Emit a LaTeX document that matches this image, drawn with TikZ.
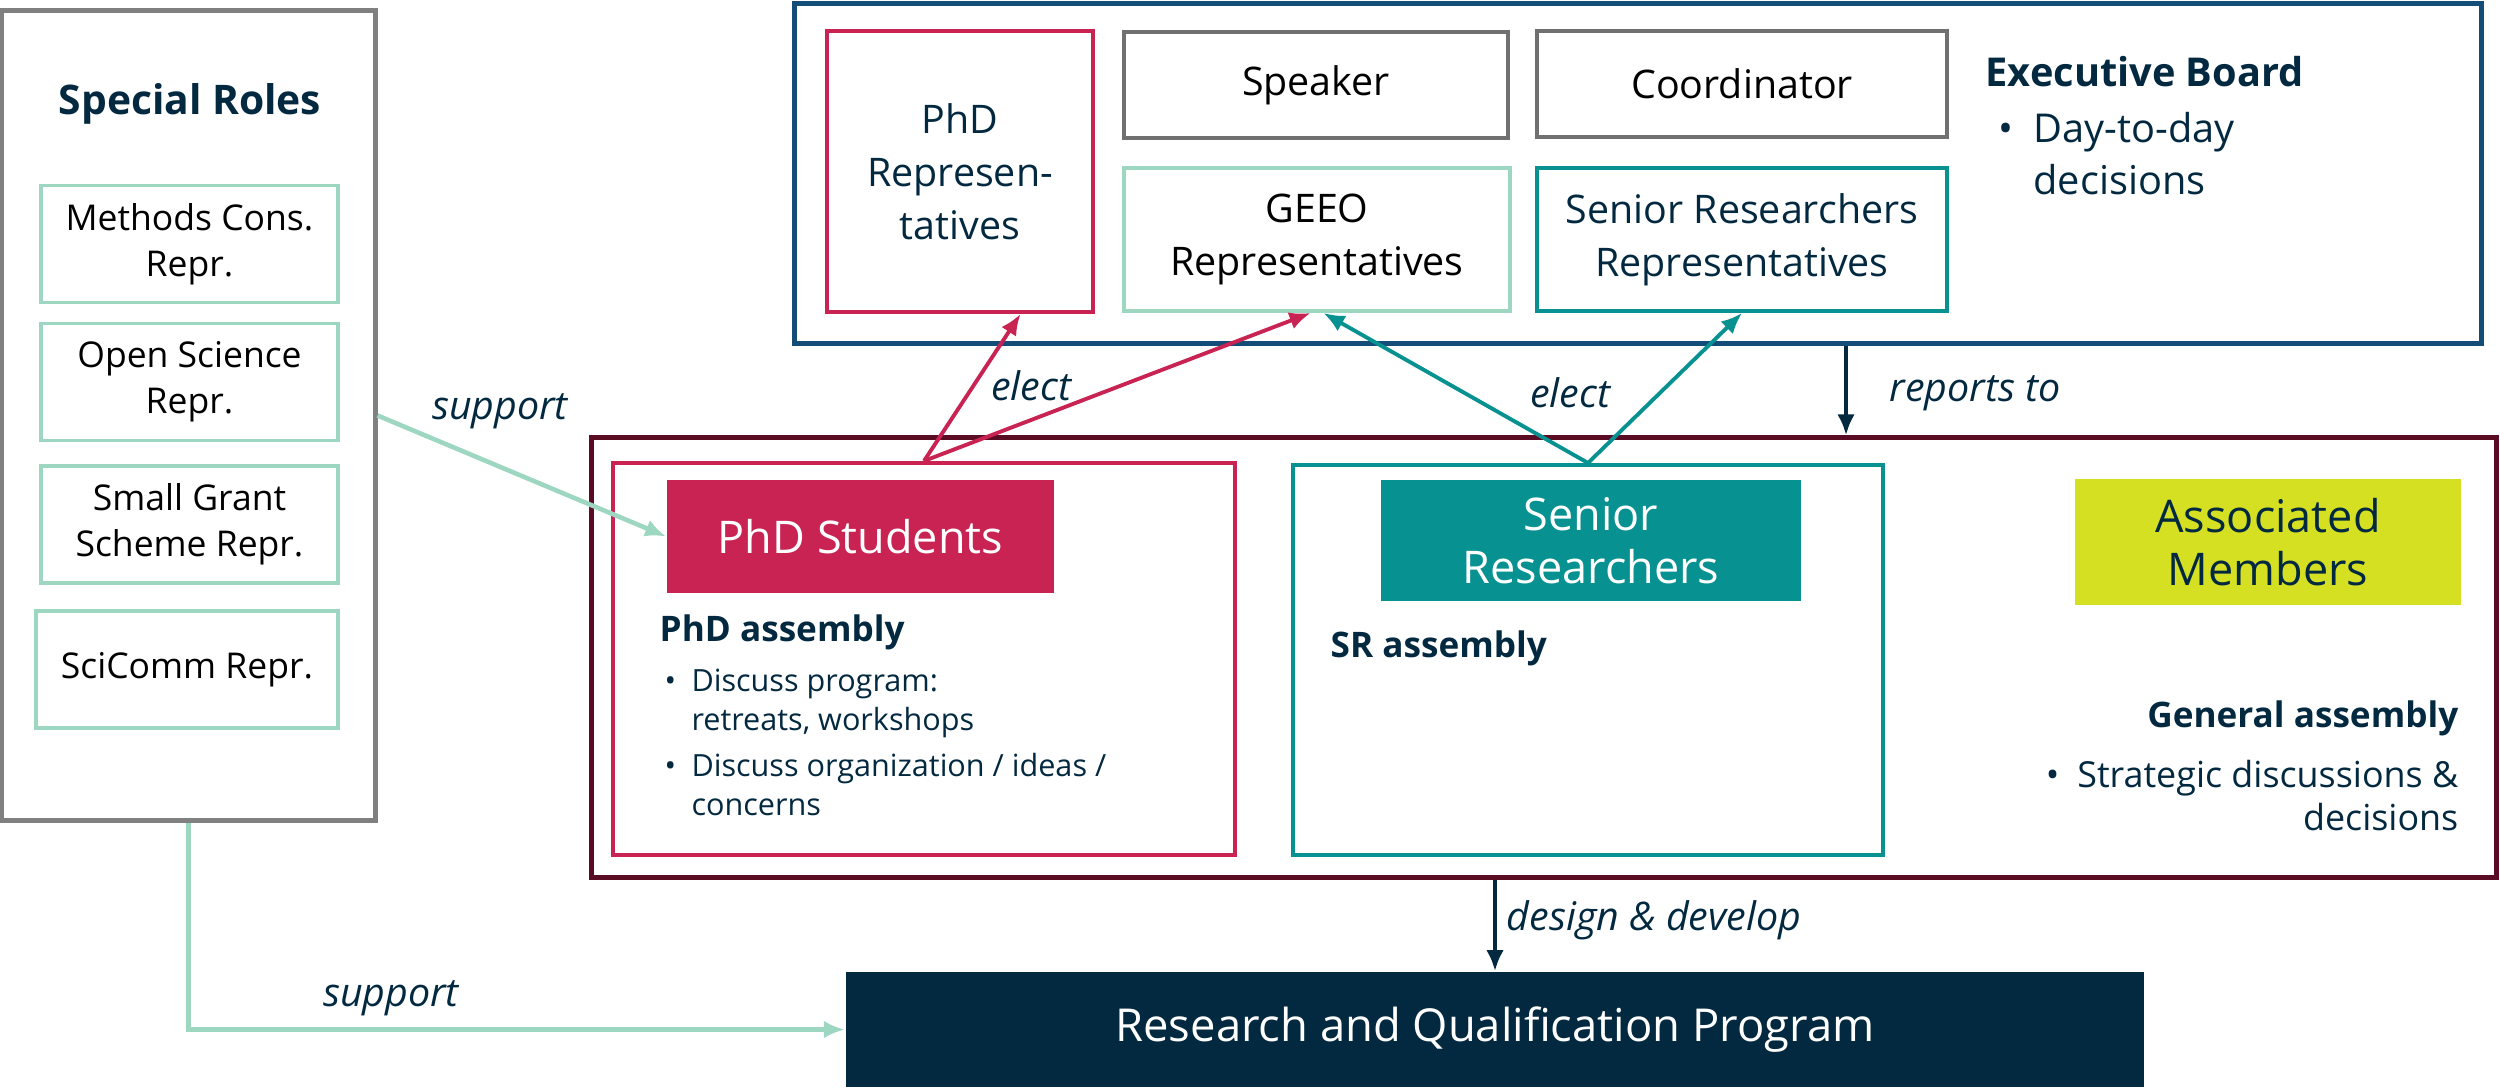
\documentclass[tikz,border=0pt]{standalone}
\usepackage{fontspec}
\setmainfont{Open Sans}
\usetikzlibrary{arrows.meta,shapes}
\definecolor{navy}{RGB}{3,41,64}
\definecolor{boardblue}{RGB}{21,77,121}
\definecolor{gamaroon}{RGB}{91,12,37}
\definecolor{phdred}{RGB}{200,35,82}
\definecolor{srteal}{RGB}{8,145,145}
\definecolor{mint}{RGB}{157,214,193}
\definecolor{roleg}{RGB}{128,128,128}
\definecolor{boxg}{RGB}{112,112,112}
\definecolor{amlime}{RGB}{214,224,34}
\tikzstyle{line} = [draw, -{Latex[length=6pt,width=5pt]}, line width=1.1pt]
\tikzstyle{frame} = [rectangle, draw, inner sep=0pt, line width=1.4pt]
\tikzstyle{role} = [rectangle, draw=mint, line width=1pt, minimum width=2.97cm, minimum height=1.17cm, align=center, font=\fontsize{10.1}{13}\selectfont]
\tikzstyle{seat} = [rectangle, draw, line width=1.1pt, minimum height=1.06cm, align=center, font=\fontsize{11.2}{15}\selectfont]
\tikzstyle{group} = [rectangle, inner sep=0pt, align=center, font=\fontsize{12.8}{15}\selectfont]
\tikzstyle{heading} = [text=navy, inner sep=0pt, font=\bfseries\fontsize{10}{12}\selectfont]
\tikzstyle{lbl} = [text=navy, font=\itshape\fontsize{11.2}{13}\selectfont]

\begin{document}
\begin{tikzpicture}[x=0.01cm, y=-0.01cm]
\useasboundingbox (0,0) rectangle (2500,1090);

% special roles
\node [frame, draw=roleg, minimum width=3.73cm, minimum height=8.09cm] (roles) at (188.5,415.5) {};
\node [heading, font=\bfseries\fontsize{11.6}{14}\selectfont] (rolestitle) at (190,104) {Special Roles};
\node [role] (methods) at (189.5,244) {Methods Cons.\\Repr.};
\node [role] (opensci) at (189.5,382) {Open Science\\Repr.};
\node [role] (grant) at (189.5,524.5) {Small Grant\\Scheme Repr.};
\node [role, minimum width=3.02cm] (scicomm) at (187,669.5) {SciComm Repr.};

% executive board
\node [frame, draw=boardblue, minimum width=16.86cm, minimum height=3.39cm] (board) at (1638,173.5) {};
\node [seat, draw=phdred, text=navy, minimum width=2.66cm, minimum height=2.81cm] (phdrep) at (960,171.5) {PhD\\Represen-\\tatives};
\node [seat, draw=boxg, minimum width=3.84cm] (speaker) at (1316,85) {Speaker};
\node [seat, draw=boxg, minimum width=4.10cm] (coord) at (1742,84) {Coordinator};
\node [seat, draw=mint, minimum width=3.86cm, minimum height=1.43cm] (geeo) at (1317,239.5) {GEEO\\Representatives};
\node [seat, draw=srteal, text=navy, minimum width=4.10cm, minimum height=1.43cm] (srrep) at (1742,239.5) {Senior Researchers\\Representatives};
\node [heading, anchor=west, font=\bfseries\fontsize{11.3}{14}\selectfont] (boardtitle) at (1985,72) {Executive Board};
\node [anchor=north west, inner sep=0pt, align=left, text=navy, font=\fontsize{11.3}{14.8}\selectfont] (boarddesc) at (1998,112) {•\enspace Day-to-day\\\phantom{•\enspace}decisions};

% general assembly
\node [frame, draw=gamaroon, minimum width=19.04cm, minimum height=4.39cm] (general) at (1544,657.5) {};
\node [frame, draw=phdred, line width=1.1pt, minimum width=6.22cm, minimum height=3.92cm] (phdasm) at (924,659) {};
\node [group, fill=phdred, text=white, minimum width=3.87cm, minimum height=1.13cm] (phdst) at (860.5,536.5) {PhD Students};
\node [heading, anchor=west] (phdasmtitle) at (659,632) {PhD assembly};
\node [anchor=north west, inner sep=0pt, align=left, text=navy, font=\fontsize{8.7}{11.1}\selectfont] (phdasmdesc) at (664,668) {•\enspace Discuss program:\\\phantom{•\enspace}retreats, workshops\\[2pt]•\enspace Discuss organization / ideas /\\\phantom{•\enspace}concerns};
\node [frame, draw=srteal, line width=1.1pt, minimum width=5.90cm, minimum height=3.90cm] (srasm) at (1588,660) {};
\node [group, fill=srteal, text=white, minimum width=4.20cm, minimum height=1.21cm] (srst) at (1591,540.5) {Senior\\Researchers};
\node [heading, anchor=west] (srasmtitle) at (1330,648) {SR assembly};
\node [group, fill=amlime, text=navy, minimum width=3.86cm, minimum height=1.26cm] (assoc) at (2268,542) {Associated\\Members};
\node [heading, anchor=east] (gentitle) at (2459,718) {General assembly};
\node [anchor=north east, inner sep=0pt, align=right, text=navy, font=\fontsize{10.2}{12}\selectfont] (gendesc) at (2459,760) {•\enspace Strategic discussions \&\\decisions};

% program
\node [rectangle, fill=navy, text=white, minimum width=12.98cm, minimum height=1.15cm, font=\fontsize{12.9}{15}\selectfont] (program) at (1495,1029.5) {Research and Qualification Program};

% connectors
\coordinate (repx) at (1846,0);
\path [line, draw=phdred, fill=phdred] (phdasm.north) to (phdrep.-67);
\path [line, draw=phdred, fill=phdred] (phdasm.north) to (geeo.-95);
\path [line, draw=srteal, fill=srteal] (srasm.north) to (geeo.-85);
\path [line, draw=srteal, fill=srteal] (srasm.north) to (srrep.south);
\path [line, draw=navy, line width=1.4pt] (board.south -| repx) to (general.north -| repx);
\path [line, draw=navy, line width=1.4pt] (program.north |- general.south) to (program.north);
\path [line, draw=mint, line width=1.3pt] (roles.east) to (phdst.west);
\path [line, draw=mint, line width=1.3pt] (roles.south) |- (program.west);

\node [lbl] (support1) at (500,411) {support};
\node [lbl] (elect1) at (1031,386) {elect};
\node [lbl] (elect2) at (1570,393) {elect};
\node [lbl] (reports) at (1975,393) {reports to};
\node [lbl] (support2) at (391,998) {support};
\node [lbl] (design) at (1654,920) {design \& develop};
\end{tikzpicture}
\end{document}
